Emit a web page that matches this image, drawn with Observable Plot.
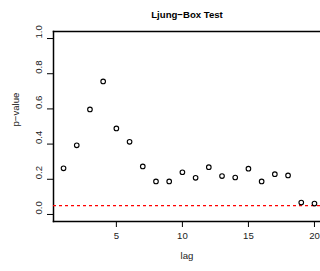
<!DOCTYPE html>
<html>
<head>
<meta charset="utf-8">
<script src="https://cdn.jsdelivr.net/npm/d3@7"></script>
<script src="https://cdn.jsdelivr.net/npm/@observablehq/plot@0.6"></script>
<style>
  html, body { margin: 0; padding: 0; background: white; }
</style>
</head>
<body>
<div id="chart"></div>
<script>
const lags = [1, 2, 3, 4, 5, 6, 7, 8, 9, 10, 11, 12, 13, 14, 15, 16, 17, 18, 19, 20];
const pvalues = [0.262, 0.393, 0.597, 0.756, 0.489, 0.413, 0.273, 0.188, 0.188, 0.240,
                 0.208, 0.269, 0.218, 0.210, 0.260, 0.188, 0.229, 0.222, 0.068, 0.062];
const xTicks = [5, 10, 15, 20];
const yTicks = [0, 0.2, 0.4, 0.6, 0.8, 1.0];
const threshold = [0.05];
const title = "Ljung\u2212Box Test";
const xLabel = "lag";
const yLabel = "p\u2212value";

const data = lags.map((lag, i) => ({lag, p: pvalues[i]}));
const xDomain = [0.24, 20.76];
const yDomain = [-0.04, 1.04];
const font = "'Liberation Sans', Arial, Helvetica, sans-serif";

const chart = Plot.plot({
  width: 320,
  height: 271,
  marginLeft: 53,
  marginTop: 31,
  marginBottom: 50,
  marginRight: 0,
  x: {domain: xDomain, range: [53, 324]},
  y: {domain: yDomain, range: [221, 31]},
  marks: [
    Plot.frame({anchor: "top", stroke: "black", strokeWidth: 1.5}),
    Plot.frame({anchor: "bottom", stroke: "black", strokeWidth: 1.5}),
    Plot.frame({anchor: "left", stroke: "black", strokeWidth: 1.5}),
    Plot.ruleY(threshold, {stroke: "red", strokeWidth: 1.2, strokeDasharray: "3,3"}),
    Plot.axisX(xTicks, {tickSize: 6, tickPadding: 5, tickFormat: d3.format("d"), label: null, fill: "#222", fontSize: 9.6, fontFamily: font}),
    Plot.axisY(yTicks, {tickSize: 6, tickFormat: () => "", label: null}),
    Plot.dot(data, {x: "lag", y: "p", r: 2.3, stroke: "black", strokeWidth: 1.1, fill: "none"}),
    Plot.text(yTicks, {y: d => d, frameAnchor: "left", dx: -15, rotate: -90, text: d => d.toFixed(1), fill: "#222", fontSize: 9.6, fontFamily: font}),
    Plot.text([title], {frameAnchor: "top", dy: -20, text: d => d, fontWeight: "bold", fontSize: 9.6, fontFamily: font}),
    Plot.text([xLabel], {frameAnchor: "bottom", dy: 37, text: d => d, fontSize: 9.6, fill: "#222", fontFamily: font}),
    Plot.text([yLabel], {frameAnchor: "left", dx: -38, rotate: -90, text: d => d, fontSize: 9.6, fill: "#222", fontFamily: font})
  ]
});
document.getElementById("chart").appendChild(chart);
</script>
</body>
</html>
